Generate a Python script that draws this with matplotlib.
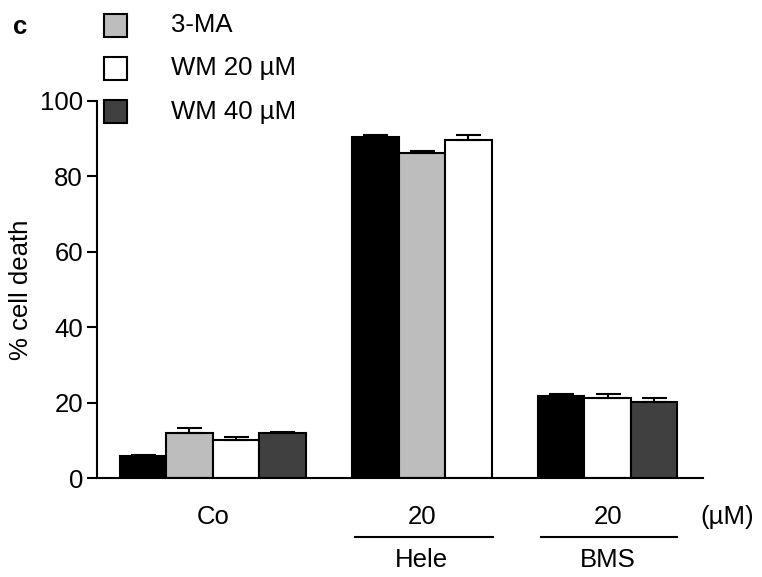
import matplotlib.pyplot as plt
from matplotlib.patches import Rectangle
from matplotlib.transforms import blended_transform_factory

plt.rcParams['font.family'] = ['Liberation Sans', 'DejaVu Sans']

# bar positions (one unit per bar) and values
co_pos = [0, 1, 2, 3]
co_vals = [5.8, 12.0, 10.1, 12.0]
co_err = [0.4, 1.2, 0.8, 0.3]
co_cols = ['#000000', '#bdbdbd', '#ffffff', '#404040']

hele_pos = [5, 6, 7]
hele_vals = [90.4, 86.3, 89.7]
hele_err = [0.7, 0.4, 1.2]
hele_cols = ['#000000', '#bdbdbd', '#ffffff']

bms_pos = [9, 10, 11]
bms_vals = [21.8, 21.1, 20.2]
bms_err = [0.6, 1.2, 1.1]
bms_cols = ['#000000', '#ffffff', '#404040']

legend_labels = ['3-MA', 'WM 20 µM', 'WM 40 µM']
legend_cols = ['#bdbdbd', '#ffffff', '#404040']

fs = 18.5
W, H = 762, 577
fig = plt.figure(figsize=(7.62, 5.77), dpi=100)
ax = fig.add_axes([97 / W, 1 - 478 / H, (703 - 97) / W, (478 - 101) / H])

for pos, vals, err, cols in [(co_pos, co_vals, co_err, co_cols),
                             (hele_pos, hele_vals, hele_err, hele_cols),
                             (bms_pos, bms_vals, bms_err, bms_cols)]:
    ax.bar(pos, vals, width=1.0, color=cols, edgecolor='black', linewidth=1.5,
           yerr=[[0] * len(err), err], capsize=9,
           error_kw=dict(elinewidth=1.5, capthick=1.5, ecolor='black'), zorder=2)

ax.set_xlim(-0.99, 12.05)
ax.set_ylim(0, 100)
ax.set_yticks([0, 20, 40, 60, 80, 100])
ax.set_xticks([])
ax.spines['top'].set_visible(False)
ax.spines['right'].set_visible(False)
ax.spines['left'].set_linewidth(1.5)
ax.spines['bottom'].set_linewidth(1.5)
ax.tick_params(axis='y', length=7, width=1.5, labelsize=fs, pad=3)
ax.set_ylabel('% cell death', fontsize=fs, labelpad=5)

# group labels below the axis
tr = blended_transform_factory(ax.transData, ax.transAxes)
ax.text(1.5, -0.103, 'Co', transform=tr, ha='center', va='center', fontsize=fs)
ax.text(6, -0.103, '20', transform=tr, ha='center', va='center', fontsize=fs)
ax.text(10, -0.103, '20', transform=tr, ha='center', va='center', fontsize=fs)
ax.plot([4.56, 7.53], [-0.156, -0.156], transform=tr, color='black', lw=1.5, clip_on=False)
ax.plot([8.57, 11.5], [-0.156, -0.156], transform=tr, color='black', lw=1.5, clip_on=False)
ax.text(6, -0.218, 'Hele', transform=tr, ha='center', va='center', fontsize=fs)
ax.text(10, -0.218, 'BMS', transform=tr, ha='center', va='center', fontsize=fs)
fig.text(727 / W, 1 - 517 / H, '(µM)', ha='center', va='center', fontsize=fs)

# legend drawn by hand
for i, (lab, col) in enumerate(zip(legend_labels, legend_cols)):
    yc = 25.5 + 43 * i
    fig.add_artist(Rectangle((104 / W, 1 - (yc + 11.5) / H), 23 / W, 23 / H,
                             transform=fig.transFigure, facecolor=col,
                             edgecolor='black', linewidth=1.5))
    fig.text(171 / W, 1 - yc / H, lab, ha='left', va='center', fontsize=fs)

fig.text(20 / W, 1 - 27 / H, 'c', ha='center', va='center', fontsize=fs, fontweight='bold')

fig.savefig('out.png', dpi=100)
